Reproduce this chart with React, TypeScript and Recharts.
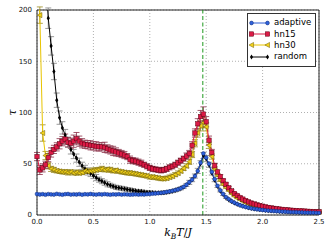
import React from 'react';
import { LineChart, Line, XAxis, YAxis, CartesianGrid, ReferenceLine, ErrorBar, Legend } from 'recharts';

// temperature grid k_B T / J
const temps = Array.from({ length: 101 }, (_, i) => +(i * 0.025).toFixed(3));

const adaptive = [
    20.5, 20, 20.3, 19.8, 20.4, 20.1, 19.9, 20.6, 20.2, 19.8,
    20.3, 20.5, 19.9, 20.2, 20, 20.4, 19.8, 20.3, 20.1, 20.5,
    20.2, 19.9, 20.3, 20, 20.4, 20.1, 19.8, 20.2, 20, 20.3,
    19.9, 20.2, 20.1, 19.8, 20, 20.2, 19.9, 20.1, 20, 20.3,
    20.5, 20.8, 21, 21.3, 21.6, 22, 22.5, 23, 23.6, 24.3,
    25, 26, 27.5, 29.5, 32, 34.5, 38, 43, 51, 60,
    56, 50, 42, 35, 28.5, 24, 20.5, 17.5, 15.5, 13.5,
    12, 10.7, 9.5, 8.6, 7.8, 7.1, 6.5, 6.0, 5.6, 5.2,
    4.9, 4.6, 4.3, 4.1, 3.9, 3.7, 3.5, 3.3, 3.2, 3.0,
    2.9, 2.8, 2.7, 2.6, 2.5, 2.4, 2.3, 2.2, 2.2, 2.1,
    2.0,
];

const hn15 = [
    57, 44, 46, 49, 56, 61, 64, 66.5, 69.5, 72,
    74, 71, 70, 72, 74.5, 72, 70, 69, 68.5, 68,
    67.5, 67, 66.5, 66.5, 66, 64.5, 63.5, 62.5, 61.5, 60.5,
    59.5, 58.5, 57, 54, 53, 52.5, 51.5, 50.5, 49, 47.5,
    46, 45, 44.5, 44, 43.5, 44, 45, 46.5, 47.5, 49,
    51, 53, 55, 57.5, 60, 68, 80, 89, 96, 98.5,
    91, 73, 61, 48, 42, 37.5, 33.5, 30, 26.5, 23.5,
    21, 19, 17, 15.5, 14, 12.8, 11.7, 10.8, 10, 9.3,
    8.6, 8.0, 7.4, 6.9, 6.5, 6.1, 5.8, 5.5, 5.2, 4.9,
    4.7, 4.5, 4.3, 4.1, 3.9, 3.8, 3.6, 3.5, 3.4, 3.3,
    3.2,
];

const hn15Err = [
    4, 4.5, 4, 3.5, 4, 4.5, 4, 4, 5, 4.5,
    5, 4.5, 5, 6, 6, 5, 4.5, 4, 4, 4.5,
    4, 4.5, 4, 4, 5, 4, 4, 4.5, 4, 3.5,
    3.5, 3.5, 3, 3.5, 3, 3, 3, 3, 2.5, 2.5,
    2.5, 2.5, 2.5, 2.5, 2.5, 2.5, 2.5, 2.5, 2.5, 2.5,
    2.5, 2.5, 2.5, 3, 3, 3.5, 4, 5, 6, 7,
    5, 4, 3, 2.5, 2, 1.8, 1.5, 1.3, 1.2, 1.0,
    0.9, 0.8, 0.7, 0.7, 0.6, 0.6, 0.5, 0.5, 0.5, 0.5,
    0.4, 0.4, 0.4, 0.4, 0.4, 0.4, 0.4, 0.4, 0.4, 0.4,
    0.3, 0.3, 0.3, 0.3, 0.3, 0.3, 0.3, 0.3, 0.3, 0.3,
    0.3,
];

const hn30 = [
    260, 195, 80, 58, 48, 45, 44, 43, 42.5, 42,
    42, 41.5, 42, 41, 41.5, 41, 41.5, 43, 42.5, 43,
    43.5, 44, 44.5, 45, 44, 44.5, 44, 43, 43.5, 42.5,
    42, 41.5, 41, 41, 40.5, 40, 39.5, 39, 38.5, 38,
    37, 37, 36.5, 36, 35.5, 35.5, 36, 37, 38, 39.5,
    41, 43, 45.5, 48, 52, 59, 70, 80, 87, 90,
    86, 68, 57, 45, 39, 34, 30, 27, 24, 21,
    18.5, 16.5, 15, 13.5, 12.2, 11, 10, 9.2, 8.5, 7.9,
    7.3, 6.8, 6.3, 5.9, 5.5, 5.2, 4.9, 4.6, 4.4, 4.2,
    4.0, 3.8, 3.6, 3.5, 3.3, 3.2, 3.1, 3.0, 2.9, 2.8,
    2.7,
];

const hn30Err = [
    10, 8, 8, 4, 3, 2.5, 2.5, 2, 2, 2,
    2, 2.5, 2, 2, 2.5, 2, 2, 2.5, 2, 2,
    2.5, 2, 2, 2.5, 2, 2, 2.5, 2, 2, 2,
    2, 2, 2, 2, 2, 2, 2, 2, 2, 2,
    2, 2, 2, 2, 2, 2, 2, 2, 2, 2,
    2, 2, 2, 2, 2.5, 3, 3.5, 4, 5, 5,
    4, 3, 2.5, 2, 1.5, 1.3, 1.1, 1, 0.9, 0.8,
    0.7, 0.6, 0.6, 0.5, 0.5, 0.5, 0.4, 0.4, 0.4, 0.4,
    0.3, 0.3, 0.3, 0.3, 0.3, 0.3, 0.3, 0.3, 0.3, 0.3,
    0.3, 0.3, 0.3, 0.3, 0.3, 0.3, 0.3, 0.3, 0.3, 0.3,
    0.3,
];

const random = [
    null, null, null, 235, 192, 165, 140, 112, 95, 85,
    78, 71, 64, 59.5, 55.5, 51.5, 48, 45, 42.5, 40.5,
    38.5, 36.5, 34.5, 33, 31.5, 30, 29, 28, 27, 26.5,
    26, 25.5, 25, 24.5, 24, 23.5, 23.2, 23, 22.5, 22.2,
    22, 21.8, 21.5, 21.5, 21.6, 21.8, 22.2, 22.7, 23.3, 24,
    25, 26, 27.3, 29.3, 31.8, 34.5, 38, 43, 50, 58,
    55, 49, 41, 34, 28, 23.5, 20, 17, 15, 13.2,
    11.8, 10.6, 9.5, 8.6, 7.8, 7.1, 6.5, 6.0, 5.6, 5.2,
    4.9, 4.6, 4.3, 4.1, 3.9, 3.7, 3.5, 3.3, 3.2, 3.0,
    2.9, 2.8, 2.7, 2.6, 2.5, 2.4, 2.3, 2.2, 2.2, 2.1,
    2.0,
];

const randomErr = [
    null, null, null, 12, 10, 9, 8, 7, 6.5, 6,
    5.5, 5, 4.5, 4.5, 4, 4, 3.5, 3.5, 3.5, 3,
    3, 3, 2.5, 2.5, 2.5, 2.5, 2, 2, 2, 2,
    2, 2, 1.8, 1.8, 1.8, 1.5, 1.5, 1.5, 1.5, 1.5,
    1.5, 1.5, 1.5, 1.5, 1.5, 1.5, 1.5, 1.5, 1.5, 1.5,
    1.5, 1.5, 1.5, 1.5, 2, 2, 2, 2.5, 3, 3,
    3, 2.5, 2, 1.5, 1.2, 1, 1, 0.8, 0.8, 0.7,
    0.5, 0.5, 0.5, 0.5, 0.5, 0.5, 0.5, 0.5, 0.5, 0.5,
    0.3, 0.3, 0.3, 0.3, 0.3, 0.3, 0.3, 0.3, 0.3, 0.3,
    0.3, 0.3, 0.3, 0.3, 0.3, 0.3, 0.3, 0.3, 0.3, 0.3,
    0.3,
];

const xTicks = [0, 0.5, 1, 1.5, 2, 2.5];
const yTicks = [0, 50, 100, 150, 200];
const T_C = 1.47;

const rows = temps.map((t, i) => ({
    t,
    adaptive: adaptive[i],
    hn15: hn15[i],
    hn15Err: hn15Err[i],
    hn30: hn30[i],
    hn30Err: hn30Err[i],
    random: random[i],
    randomErr: randomErr[i],
}));

type Shape = 'circle' | 'square' | 'triangle' | 'diamond';

const SERIES: { key: string; name: string; color: string; fill: string; edge: string; shape: Shape; err?: string; errColor?: string }[] = [
    { key: 'adaptive', name: 'adaptive', color: '#2a5bd3', fill: '#2f62dc', edge: '#0d2670', shape: 'circle' },
    { key: 'hn15', name: 'hn15', color: '#d81440', fill: '#dc1a46', edge: '#5c0012', shape: 'square', err: 'hn15Err', errColor: '#8a3048' },
    { key: 'hn30', name: 'hn30', color: '#e8c400', fill: '#f2d21a', edge: '#6a5800', shape: 'triangle', err: 'hn30Err', errColor: '#9a8a20' },
    { key: 'random', name: 'random', color: '#000000', fill: '#000000', edge: '#000000', shape: 'diamond', err: 'randomErr', errColor: '#808080' },
];

function Marker({ shape, cx, cy, fill, edge }: { shape: Shape; cx: number; cy: number; fill: string; edge: string }) {
    if (shape === 'circle') {
        return <circle cx={cx} cy={cy} r={1.9} fill={fill} stroke={edge} strokeWidth={0.5} />;
    }
    if (shape === 'square') {
        return <rect x={cx - 2.2} y={cy - 2.2} width={4.4} height={4.4} fill={fill} stroke={edge} strokeWidth={0.5} />;
    }
    if (shape === 'triangle') {
        return (
            <polygon
                points={`${cx - 2.6},${cy} ${cx + 2.1},${cy - 2.6} ${cx + 2.1},${cy + 2.6}`}
                fill={fill}
                stroke={edge}
                strokeWidth={0.5}
            />
        );
    }
    return <polygon points={`${cx},${cy - 2.6} ${cx + 1.6},${cy} ${cx},${cy + 2.6} ${cx - 1.6},${cy}`} fill={fill} />;
}

const renderDot = (s: (typeof SERIES)[number]) => (props: any) => {
    const { cx, cy, index, value } = props;
    if (cx == null || cy == null || value == null) return <g key={`${s.key}-dot-${index}`} />;
    return (
        <g key={`${s.key}-dot-${index}`}>
            <Marker shape={s.shape} cx={cx} cy={cy} fill={s.fill} edge={s.edge} />
        </g>
    );
};

const XLabel = (props: any) => {
    const vb = props.viewBox || { x: 37, y: 215, width: 282 };
    return (
        <text
            x={vb.x + vb.width / 2}
            y={vb.y + 21}
            textAnchor="middle"
            fontFamily="DejaVu Serif"
            fontStyle="italic"
            fontSize={11}
            fill="#000"
        >
            k<tspan fontSize={7.5} dy={2.5}>B</tspan>
            <tspan dy={-2.5}>T</tspan>
            <tspan fontStyle="normal">/</tspan>J
        </text>
    );
};

const YLabel = (props: any) => {
    const vb = props.viewBox || { x: 0, y: 10, height: 205 };
    const cy = vb.y + vb.height / 2;
    return (
        <text
            transform={`translate(12, ${cy}) rotate(-90)`}
            textAnchor="middle"
            dominantBaseline="central"
            fontFamily="DejaVu Serif"
            fontStyle="italic"
            fontSize={11}
            fill="#000"
        >
            τ
        </text>
    );
};

// matplotlib-style boxed legend in the top right corner
const renderLegend = () => (
    <div
        style={{
            boxSizing: 'border-box',
            width: 69,
            border: '1px solid #333',
            background: '#fff',
            padding: '3px 2px 3px 1px',
            fontFamily: 'DejaVu Sans',
            fontSize: 8.5,
            color: '#000',
        }}
    >
        {SERIES.map((s) => (
            <div key={s.key} style={{ display: 'flex', alignItems: 'center', height: 11.4 }}>
                <svg width={21} height={8} style={{ display: 'block' }}>
                    <line x1={2} y1={4} x2={19} y2={4} stroke={s.color} strokeWidth={1} />
                    <Marker shape={s.shape} cx={2.5} cy={4} fill={s.fill} edge={s.edge} />
                    <Marker shape={s.shape} cx={18.5} cy={4} fill={s.fill} edge={s.edge} />
                </svg>
                <span style={{ marginLeft: 4, lineHeight: '11px' }}>{s.name}</span>
            </div>
        ))}
    </div>
);

const tickStyle = { fontSize: 7, fill: '#111', fontFamily: 'DejaVu Sans' };

export default function App() {
    // draw random first so the other series sit on top, as in the original
    const drawOrder = [...SERIES].reverse();

    return (
        <div style={{ position: 'absolute', left: 0, top: 0, width: 332, height: 249, background: '#fff' }}>
            <LineChart width={332} height={249} data={rows} margin={{ top: 10, right: 13, bottom: 0, left: 0 }}>
                <CartesianGrid stroke="#b0b0b0" strokeDasharray="1 2" />
                <XAxis
                    dataKey="t"
                    type="number"
                    domain={[0, 2.5]}
                    ticks={xTicks}
                    tickFormatter={(v: number) => v.toFixed(1)}
                    height={34}
                    tick={tickStyle}
                    tickLine={false}
                    tickSize={2}
                    tickMargin={2}
                    stroke="#222"
                    label={XLabel}
                />
                <YAxis
                    type="number"
                    domain={[0, 200]}
                    ticks={yTicks}
                    allowDataOverflow
                    width={37}
                    tick={tickStyle}
                    tickLine={false}
                    tickSize={2}
                    tickMargin={3}
                    stroke="#222"
                    label={YLabel}
                />
                <ReferenceLine y={200} stroke="#222" />
                <ReferenceLine x={2.5} stroke="#222" />
                <ReferenceLine x={T_C} stroke="#1f9a1f" strokeDasharray="4 2.5" strokeWidth={1} />
                {drawOrder.map((s) => (
                    <Line
                        key={s.key}
                        dataKey={s.key}
                        name={s.name}
                        stroke={s.color}
                        strokeWidth={1}
                        dot={renderDot(s)}
                        activeDot={false}
                        isAnimationActive={false}
                    >
                        {s.err && (
                            <ErrorBar dataKey={s.err} width={3} stroke={s.errColor} strokeWidth={0.8} direction="y" />
                        )}
                    </Line>
                ))}
                <Legend
                    layout="vertical"
                    align="center"
                    verticalAlign="middle"
                    content={renderLegend}
                    wrapperStyle={{ left: 247, top: 13, right: 'auto', bottom: 'auto', width: 69 }}
                />
            </LineChart>
        </div>
    );
}
